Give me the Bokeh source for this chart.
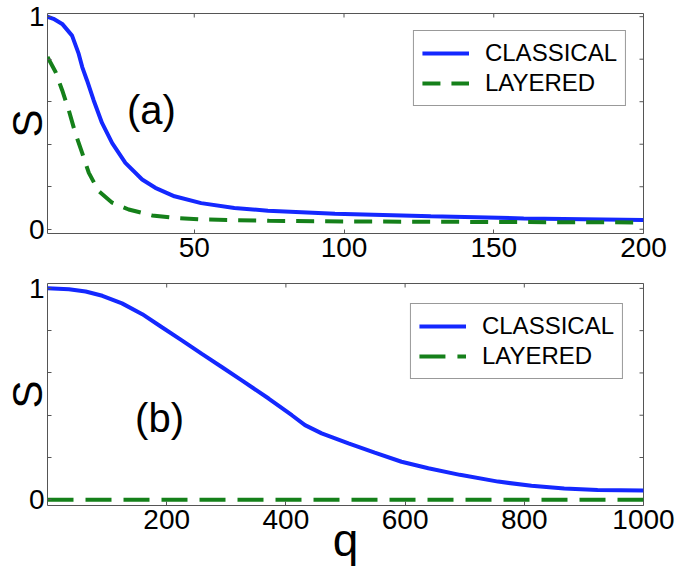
import math
from bokeh.plotting import figure
from bokeh.layouts import column
from bokeh.models import Range1d, FixedTicker, Label, Legend, LegendItem
from bokeh.embed import file_html
from bokeh.resources import INLINE

# ---------------- data ----------------
# panel (a)
a_classical_q = [1, 3, 5.9, 9.2, 11.4, 12.6, 14.2, 16.4, 19.2, 22.6, 27, 32.6, 37, 43.4,
                 52.3, 63.4, 74.6, 97, 129, 160, 200]
a_classical_s = [1.0, 0.99, 0.966, 0.911, 0.826, 0.763, 0.70, 0.607, 0.50, 0.405, 0.312,
                 0.234, 0.195, 0.155, 0.123, 0.10, 0.087, 0.073, 0.061, 0.051, 0.043]
a_layered_q = [1, 3.7, 5.9, 8.1, 10.3, 12.6, 14.8, 18.1, 22.6, 28.1, 35.9, 43, 52.3,
               75, 100, 150, 200]
a_layered_s = [0.81, 0.74, 0.654, 0.56, 0.452, 0.358, 0.265, 0.179, 0.125, 0.093,
               0.065, 0.054, 0.046, 0.040, 0.037, 0.034, 0.032]
# panel (b)
b_classical_q = [0, 36, 64, 92, 125, 159, 192, 226, 259, 293, 326, 371, 410, 432, 460,
                 505, 549, 594, 639, 692, 756, 812, 867, 923, 1000]
b_classical_s = [1.0, 0.996, 0.985, 0.965, 0.929, 0.878, 0.816, 0.753, 0.69, 0.627,
                 0.565, 0.479, 0.40, 0.353, 0.314, 0.267, 0.223, 0.180, 0.149, 0.118,
                 0.086, 0.066, 0.053, 0.046, 0.044]
b_layered_q = [0, 250, 500, 750, 1000]
b_layered_s = [0.0, 0.0, 0.0, 0.0, 0.0]

a_xticks = [50, 100, 150, 200]
b_xticks = [200, 400, 600, 800, 1000]
y_ticks = [0, 1]
y_minor = [0.2, 0.4, 0.6, 0.8]
series_names = ["CLASSICAL", "LAYERED"]

FONT = "Liberation Sans"
BLUE = "#1428ff"
GREEN = "#15801a"
FRAME = "#555555"


def style_axis(ax):
    ax.axis_line_color = None
    ax.major_tick_in = 4
    ax.major_tick_out = 0
    ax.minor_tick_in = 4
    ax.minor_tick_out = 0
    ax.major_tick_line_color = FRAME
    ax.minor_tick_line_color = FRAME
    ax.major_label_text_font = FONT
    ax.major_label_text_font_size = "28px"
    ax.major_label_text_color = "black"
    ax.major_label_standoff = 4
    ax.axis_label_text_font = FONT
    ax.axis_label_text_font_style = "normal"
    ax.axis_label_text_color = "black"


def make_panel(xr, yr, xticks, cq, cs, lq, ls, dash, tag, tag_x, tag_y,
               frame_h, border_top, border_bottom, legend_margin, xlabel=None):
    p = figure(width=675, height=border_top + frame_h + border_bottom,
               x_range=Range1d(*xr), y_range=Range1d(*yr),
               output_backend="svg", toolbar_location=None,
               min_border_left=46, min_border_right=32,
               min_border_top=border_top, min_border_bottom=border_bottom)
    p.xgrid.visible = False
    p.ygrid.visible = False
    p.outline_line_color = FRAME
    p.outline_line_width = 1
    p.background_fill_color = "white"
    p.border_fill_color = "white"

    p.xaxis.ticker = FixedTicker(ticks=xticks, minor_ticks=[])
    p.yaxis.ticker = FixedTicker(ticks=y_ticks, minor_ticks=y_minor)
    style_axis(p.xaxis[0])
    style_axis(p.yaxis[0])
    p.yaxis[0].major_label_standoff = 3
    p.yaxis[0].axis_label = "S"
    p.yaxis[0].axis_label_text_font_size = "42px"
    p.yaxis[0].axis_label_standoff = -25
    if xlabel:
        p.xaxis[0].axis_label = xlabel
        p.xaxis[0].axis_label_text_font_size = "46px"
        p.xaxis[0].axis_label_text_line_height = 1.0
        p.xaxis[0].axis_label_standoff = -18

    # mirrored ticks on top and right edges of the frame
    p.scatter(xticks, [yr[1]] * len(xticks), marker="dash", size=8, angle=math.pi / 2,
              line_color=FRAME, line_width=1)
    yall = y_ticks + y_minor
    p.scatter([xr[1]] * len(yall), yall, marker="dash", size=8,
              line_color=FRAME, line_width=1)

    r1 = p.line(cq, cs, line_color=BLUE, line_width=4)
    r2 = p.line(lq, ls, line_color=GREEN, line_width=4, line_dash=dash)

    legend = Legend(items=[LegendItem(label=series_names[0], renderers=[r1]),
                           LegendItem(label=series_names[1], renderers=[r2])],
                    location="top_right")
    legend.border_line_color = "#333333"
    legend.border_line_width = 1
    legend.background_fill_alpha = 1
    legend.label_text_font = FONT
    legend.label_text_font_size = "24px"
    legend.label_text_color = "black"
    legend.glyph_width = 47
    legend.glyph_height = 24
    legend.label_height = 24
    legend.label_standoff = 16
    legend.padding = 8
    legend.spacing = 2
    legend.margin = legend_margin
    p.add_layout(legend)

    p.add_layout(Label(x=tag_x, y=tag_y, text=tag, text_font=FONT, text_font_size="40px",
                       text_align="center", text_baseline="alphabetic", text_color="black"))
    return p


p1 = make_panel((1, 200), (-0.02, 1.015), a_xticks, a_classical_q, a_classical_s,
                a_layered_q, a_layered_s, "18 11", "(a)", 35.7, 0.56,
                220, 13, 38, 17)
p2 = make_panel((0, 1000), (-0.027, 1.023), b_xticks, b_classical_q, b_classical_s,
                b_layered_q, b_layered_s, "26 12", "(b)", 188, 0.385,
                222, 12, 66, 20, xlabel="q")

layout = column(p1, p2)
open("out.html", "w").write(file_html(layout, INLINE))
